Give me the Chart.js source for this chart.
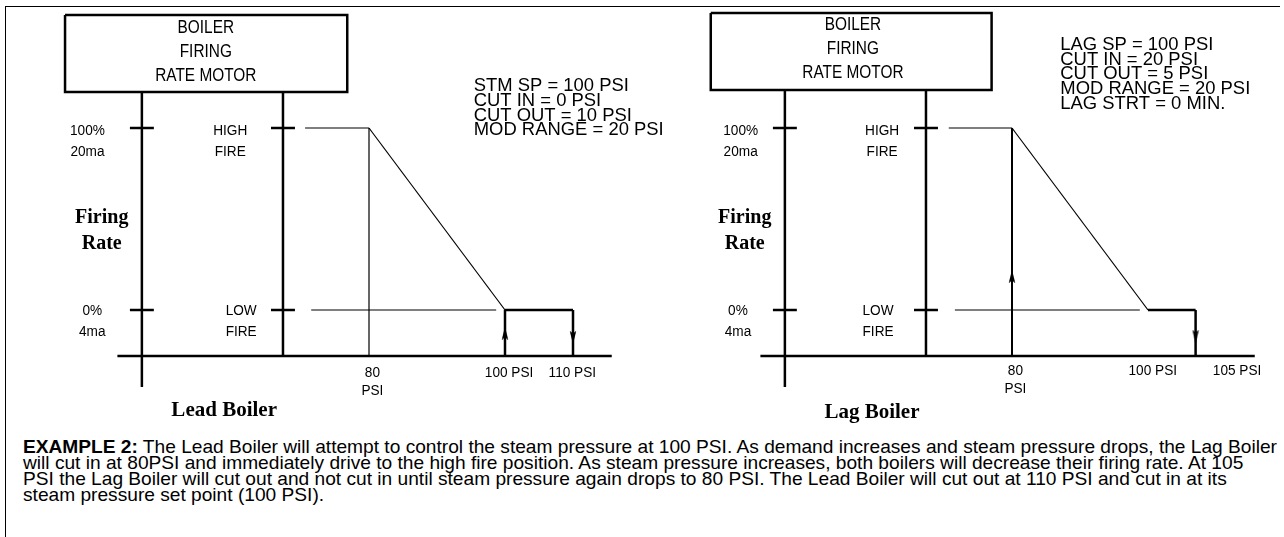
<!DOCTYPE html>
<html>
<head>
<meta charset="utf-8">
<title>Lead / Lag boiler firing rate</title>
<script src="https://cdn.jsdelivr.net/npm/chart.js"></script>
<style>
  body { margin: 0; background: #fff; width: 1284px; height: 537px; overflow: hidden; position: relative; }
  #frame { position: absolute; left: 5px; top: 6px; width: 1275px; height: 540px;
           border-left: 1.5px solid #000; border-top: 1.5px solid #000; box-sizing: border-box; }
  canvas { position: absolute; top: 0; }
  #lead { left: 0; }
  #lag  { left: 643px; }
  #note { position: absolute; left: 23px; top: 439px; color: #000; white-space: nowrap;
          font: 19px 'Liberation Sans', Arial, sans-serif; line-height: 16px; transform-origin: 0 0; }
</style>
</head>
<body>
<div id="frame"></div>
<canvas id="lead" width="690" height="430"></canvas>
<canvas id="lag" width="641" height="430"></canvas>
<div id="note"><span id="note-l1"><b>EXAMPLE 2:</b> The Lead Boiler will attempt to control the steam pressure at 100 PSI. As demand increases and steam pressure drops, the Lag Boiler</span><br>will cut in at 80PSI and immediately drive to the high fire position. As steam pressure increases, both boilers will decrease their firing rate. At 105<br>PSI the Lag Boiler will cut out and not cut in until steam pressure again drops to 80 PSI. The Lead Boiler will cut out at 110 PSI and cut in at its<br>steam pressure set point (100 PSI).</div>

<script>
/* ── data ─────────────────────────────────────────────────── */

const firingLevels   = [100, 0];                     // % firing rate: high fire, low fire
const firingLabels   = [['100%', '20ma'], ['0%', '4ma']];
const motorLabels    = [['HIGH', 'FIRE'], ['LOW', 'FIRE']];
const motorBoxLabel  = ['BOILER', 'FIRING', 'RATE MOTOR'];
const yAxisTitle     = ['Firing', 'Rate'];

const leadCurvePsi   = [80, 100, 110];               // high fire -> low fire -> cut out
const leadCurvePct   = [100, 0, 0];
const leadCutInPsi   = 100;
const leadCutOutPsi  = 110;
const leadSettings   = ['STM SP = 100 PSI', 'CUT IN = 0 PSI', 'CUT OUT = 10 PSI', 'MOD RANGE = 20 PSI'];
const leadPsiLabels  = [['80', 'PSI'], ['100 PSI'], ['110 PSI']];

const lagCurvePsi    = [80, 100, 107];
const lagCurvePct    = [100, 0, 0];
const lagCutInPsi    = 80;
const lagCutOutPsi   = 107;
const lagSettings    = ['LAG SP = 100 PSI', 'CUT IN = 20 PSI', 'CUT OUT = 5 PSI', 'MOD RANGE = 20 PSI', 'LAG STRT = 0 MIN.'];
const lagPsiLabels   = [['80', 'PSI'], ['100 PSI'], ['105 PSI']];

/* ── layout (scale units: x = PSI, y = % firing) ──────────── */

const PX_PER_PSI = 6.8, PX_PER_PCT = 1.82;
const X_MIN = 80 - 369 / PX_PER_PSI;
const Y_MAX = 100 + 128 / PX_PER_PCT;

const SANS  = "'Liberation Sans', Arial, sans-serif";
const SERIF = "'Liberation Serif', 'DejaVu Serif', serif";
const NARROW = 0.88;                                 // condensed look for sans text

const leadLayout = {
    axisX: 46.6, motorX: 67.35, tick: 1.76, baseY: -25.3, axisBottom: -42.3,
    box: { l: 35.3, r: 76.8, t: 162.1, b: 119.8 },
    highGuide: 70.6, lowGuide: [71.5, 98.7],
    cutInWidth: 2.5, guideAt80: true,
    arrowUp: 0.5, arrowDown: 0.6,
    boxText: { x: 56.0, y: 154.9 },
    settings: { x: 95.4, y: 123.2, lh: 14.8 },
    firingX: [38.6, 39.3], motorX2: [59.6, 61.2], titleX: 40.7,
    psiLabelX: [80.5, 100.6, 109.9], psiLabelY: -34.6,
    name: { text: 'Lead Boiler', x: 58.7, y: -55.5 }
};

const lagLayout = {
    axisX: 46.6, motorX: 67.35, tick: 1.76, baseY: -25.3, axisBottom: -42.3,
    box: { l: 35.7, r: 77.0, t: 163.2, b: 120.9 },
    highGuide: 70.7, lowGuide: [71.6, 98.8],
    cutInWidth: 2, guideAt80: false,
    arrowUp: 0.35, arrowDown: 0.58,
    boxText: { x: 56.6, y: 156.6 },
    settings: { x: 87.1, y: 145.6, lh: 14.6 },
    firingX: [40.1, 39.7], motorX2: [60.9, 60.3], titleX: 40.7,
    psiLabelX: [80.5, 100.7, 113.1], psiLabelY: -33.5,
    name: { text: 'Lag Boiler', x: 59.4, y: -56.6 }
};

/* ── helpers ──────────────────────────────────────────────── */

function arrowHead(dir) {
    const c = document.createElement('canvas');
    c.width = 8; c.height = 13;
    const g = c.getContext('2d');
    g.fillStyle = '#000';
    g.beginPath();
    if (dir === 'up') { g.moveTo(4, 0); g.lineTo(7.2, 13); g.lineTo(4, 11); g.lineTo(0.8, 13); }
    else              { g.moveTo(4, 13); g.lineTo(7.2, 0); g.lineTo(4, 2); g.lineTo(0.8, 0); }
    g.closePath(); g.fill();
    return c;
}
const ARROW_UP = arrowHead('up'), ARROW_DOWN = arrowHead('down');

function seg(points, width) {
    return {
        data: points.map(([x, y]) => ({ x, y })),
        showLine: true, borderColor: '#000', borderWidth: width,
        pointRadius: 0, tension: 0, borderJoinStyle: 'miter', borderCapStyle: 'butt'
    };
}

function marker(x, y, img) {
    return { data: [{ x, y }], showLine: false, pointStyle: img, pointRadius: 6 };
}

function textPlugin(items) {
    return {
        id: 'diagramText',
        afterDatasetsDraw(ch) {
            const { ctx, scales: { x, y } } = ch;
            ctx.save();
            ctx.fillStyle = '#000';
            ctx.textBaseline = 'middle';
            items.forEach(it => {
                ctx.font = it.font;
                ctx.textAlign = it.align || 'center';
                const px = x.getPixelForValue(it.x), py = y.getPixelForValue(it.y);
                it.lines.forEach((ln, i) => {
                    ctx.save();
                    ctx.translate(px, py + i * (it.lh || 0));
                    ctx.scale(it.k || 1, 1);
                    ctx.fillText(ln, 0, 0);
                    ctx.restore();
                });
            });
            ctx.restore();
        }
    };
}

/* make the scales map exactly onto the canvas, whatever padding Chart.js keeps */
const pinScales = {
    id: 'pinScales',
    afterLayout(ch) {
        const a = ch.chartArea, sx = ch.scales.x, sy = ch.scales.y;
        const xmin = X_MIN + a.left / PX_PER_PSI, xmax = xmin + (a.right - a.left) / PX_PER_PSI;
        const ymax = Y_MAX - a.top / PX_PER_PCT, ymin = ymax - (a.bottom - a.top) / PX_PER_PCT;
        if (Math.abs(sx.min - xmin) > 1e-6 || Math.abs(sy.max - ymax) > 1e-6) {
            ch.options.scales.x.min = xmin; ch.options.scales.x.max = xmax;
            ch.options.scales.y.min = ymin; ch.options.scales.y.max = ymax;
            ch._pinPending = true;
        }
    },
    afterRender(ch) {
        if (ch._pinPending) { ch._pinPending = false; ch.update('none'); }
    }
};

/* ── panel ────────────────────────────────────────────────── */

function drawPanel(canvas, L, curvePsi, curvePct, cutIn, cutOut, settings, psiLabels) {
    const ds = [];
    const b = L.box;

    // motor box and the two vertical axes
    ds.push(seg([[b.l, b.t], [b.r, b.t], [b.r, b.b], [b.l, b.b], [b.l, b.t]], 2.5));
    ds.push(seg([[L.axisX, b.b], [L.axisX, L.axisBottom]], 2.5));
    ds.push(seg([[L.motorX, b.b], [L.motorX, L.baseY]], 2.5));
    ds.push(seg([[L.axisX - 3.6, L.baseY], [115.7, L.baseY]], 2.5));

    // ticks at high / low fire
    firingLevels.forEach(v => {
        ds.push(seg([[L.axisX - L.tick, v], [L.axisX + L.tick, v]], 2.5));
        ds.push(seg([[L.motorX - L.tick, v], [L.motorX + L.tick, v]], 2.5));
    });

    // thin guide lines
    ds.push(seg([[L.highGuide, curvePct[0]], [curvePsi[0], curvePct[0]]], 1.2));
    ds.push(seg([[L.lowGuide[0], curvePct[1]], [L.lowGuide[1], curvePct[1]]], 1.2));
    if (L.guideAt80) ds.push(seg([[curvePsi[0], curvePct[0]], [curvePsi[0], L.baseY]], 1.2));

    // modulating slope and low-fire hold
    ds.push(seg([[curvePsi[0], curvePct[0]], [curvePsi[1], curvePct[1]]], 1.2));
    ds.push(seg([[curvePsi[1], curvePct[1]], [curvePsi[2], curvePct[2]]], 2.5));

    // cut in (up) and cut out (down)
    const inTop = cutIn <= curvePsi[0] ? curvePct[0] : curvePct[1];
    ds.push(seg([[cutIn, L.baseY], [cutIn, inTop]], L.cutInWidth));
    ds.push(seg([[cutOut, curvePct[2]], [cutOut, L.baseY]], 2.5));
    ds.push(marker(cutIn, L.baseY + (inTop - L.baseY) * L.arrowUp, ARROW_UP));
    ds.push(marker(cutOut, curvePct[2] + (L.baseY - curvePct[2]) * L.arrowDown, ARROW_DOWN));

    const small = `15.5px ${SANS}`;
    const items = [
        { lines: motorBoxLabel, x: L.boxText.x, y: L.boxText.y, lh: 24, font: `17.5px ${SANS}`, k: NARROW },
        { lines: settings, x: L.settings.x, y: L.settings.y, lh: L.settings.lh, font: `19px ${SANS}`, align: 'left', k: 0.97 },
        { lines: yAxisTitle, x: L.titleX, y: 50.5, lh: 26, font: `bold 20px ${SERIF}` },
        { lines: [L.name.text], x: L.name.x, y: L.name.y, font: `bold 21px ${SERIF}` }
    ];
    firingLevels.forEach((v, i) => {
        const yv = v - 3 / PX_PER_PCT + (i ? 2 / PX_PER_PCT : 0);
        items.push({ lines: firingLabels[i], x: L.firingX[i], y: yv, lh: 21, font: small, k: NARROW });
        items.push({ lines: motorLabels[i], x: L.motorX2[i], y: yv, lh: 21, font: small, k: NARROW });
    });
    psiLabels.forEach((lines, i) => {
        items.push({ lines, x: L.psiLabelX[i], y: L.psiLabelY, lh: 18, font: small, k: NARROW });
    });

    const w = canvas.width, h = canvas.height;
    return new Chart(canvas, {
        type: 'scatter',
        data: { datasets: ds },
        options: {
            responsive: false,
            animation: false,
            events: [],
            layout: { padding: 0 },
            plugins: { legend: { display: false }, tooltip: { enabled: false } },
            scales: {
                x: { type: 'linear', display: false, min: X_MIN, max: X_MIN + w / PX_PER_PSI },
                y: { type: 'linear', display: false, min: Y_MAX - h / PX_PER_PCT, max: Y_MAX }
            }
        },
        plugins: [pinScales, textPlugin(items)]
    });
}

drawPanel(document.getElementById('lead'), leadLayout, leadCurvePsi, leadCurvePct,
          leadCutInPsi, leadCutOutPsi, leadSettings, leadPsiLabels);
drawPanel(document.getElementById('lag'), lagLayout, lagCurvePsi, lagCurvePct,
          lagCutInPsi, lagCutOutPsi, lagSettings, lagPsiLabels);

/* squeeze the note so its first line spans the frame like the original */
const note = document.getElementById('note');
const l1 = document.getElementById('note-l1');
note.style.transform = `scaleX(${1254 / l1.getBoundingClientRect().width})`;
</script>
</body>
</html>
